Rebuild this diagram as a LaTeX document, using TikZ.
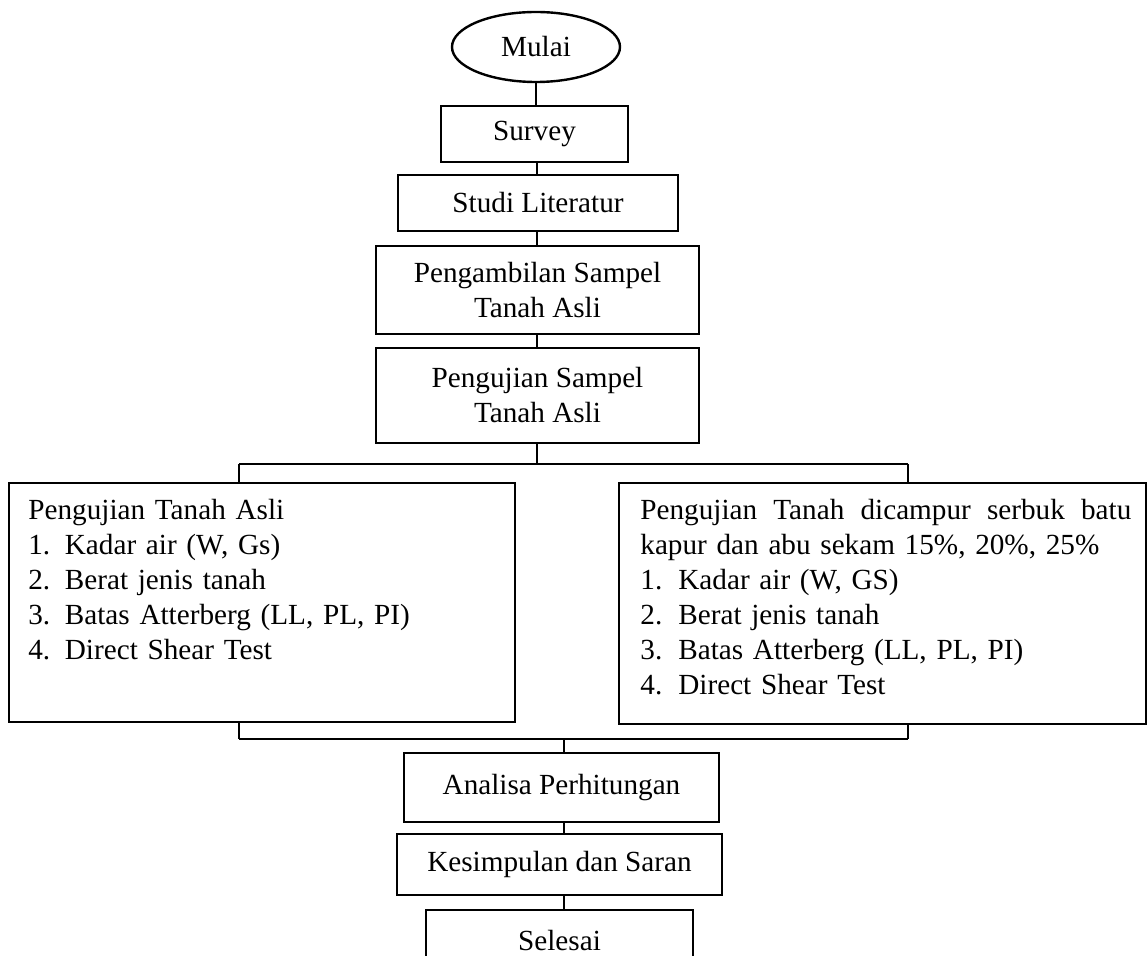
\documentclass[tikz,border=0pt]{standalone}
\usepackage{fontspec}
\setmainfont{Liberation Serif}
\usetikzlibrary{shapes.geometric}
\newcommand\flowfont{\fontsize{14.6}{17.5}\selectfont}
\begin{document}
\begin{tikzpicture}[x=0.5pt,y=-0.5pt,
  box/.style={draw, line width=1.2pt, inner sep=0pt, font=\flowfont, align=center},
  txt/.style={font=\flowfont, inner sep=0pt, anchor=base west, align=left},
  conn/.style={line width=0.6pt},
  bar/.style={line width=1.1pt}]
\useasboundingbox (0,0) rectangle (1148,956);
\clip (0,0) rectangle (1148,956);
% top chain
\node[box, ellipse, minimum width=84pt, minimum height=35pt] (mulai) at (536,47) {Mulai};
\node[box, minimum width=93.5pt, minimum height=28pt] (survey) at (534.5,134) {Survey};
\node[box, minimum width=140pt, minimum height=28pt] (studi) at (538,203) {Studi Literatur};
\node[box, minimum width=161.5pt, minimum height=44pt] (ambil) at (537.5,290) {Pengambilan Sampel\\Tanah Asli};
\node[box, minimum width=161.5pt, minimum height=47.5pt] (ujisampel) at (537.5,395.5) {Pengujian Sampel\\Tanah Asli};
% two test boxes
\node[box, minimum width=253pt, minimum height=119.5pt] (kiri) at (262,602.5) {};
\node[txt, text width=240pt] (kiritxt) at (28,520) {Pengujian Tanah Asli\\
1. Kadar air (W, Gs)\\
2. Berat jenis tanah\\
3. Batas Atterberg (LL, PL, PI)\\
4. Direct Shear Test};
\node[box, minimum width=263.5pt, minimum height=120.5pt] (kanan) at (882.5,603.5) {};
\node[txt, text width=245.5pt] (kanantxt) at (640,520) {\hbox to 245.5pt{Pengujian\hfill Tanah\hfill dicampur\hfill serbuk\hfill batu}\\
kapur dan abu sekam 15\%, 20\%, 25\%\\
\makebox[19pt][l]{1.}Kadar air (W, GS)\\
\makebox[19pt][l]{2.}Berat jenis tanah\\
\makebox[19pt][l]{3.}Batas Atterberg (LL, PL, PI)\\
\makebox[19pt][l]{4.}Direct Shear Test};
% bottom chain
\node[box, minimum width=157.5pt, minimum height=34.5pt] (analisa) at (561.5,787.5) {Analisa Perhitungan};
\node[box, minimum width=162.5pt, minimum height=30.5pt] (kesimpulan) at (559.5,864.5) {Kesimpulan dan Saran};
\node[box, minimum width=133.5pt, minimum height=30.5pt] (selesai) at (559.5,940.5) {Selesai};
% connector coordinates
\coordinate (tc) at (537,0);
\coordinate (sl) at (239,464);
\coordinate (sr) at (908,464);
\coordinate (jl) at (239,739);
\coordinate (jr) at (908,739);
\coordinate (jc) at (564,739);
% top connectors
\draw[conn] (mulai.south) -- (mulai.south |- survey.north);
\draw[conn] (survey.south -| tc) -- (studi.north -| tc);
\draw[conn] (studi.south -| tc) -- (ambil.north -| tc);
\draw[conn] (ambil.south -| tc) -- (ujisampel.north -| tc);
\draw[conn] (ujisampel.south -| tc) -- (sl -| tc);
% split
\draw[bar] (sl) -- (sr);
\draw[conn] (sl) -- (sl |- kiri.north);
\draw[conn] (sr) -- (sr |- kanan.north);
% join
\draw[conn] (jl |- kiri.south) -- (jl);
\draw[conn] (jr |- kanan.south) -- (jr);
\draw[bar] (jl) -- (jr);
% bottom connectors
\draw[conn] (jc) -- (jc |- analisa.north);
\draw[conn] (analisa.south -| jc) -- (kesimpulan.north -| jc);
\draw[conn] (kesimpulan.south -| jc) -- (selesai.north -| jc);
\end{tikzpicture}
\end{document}
